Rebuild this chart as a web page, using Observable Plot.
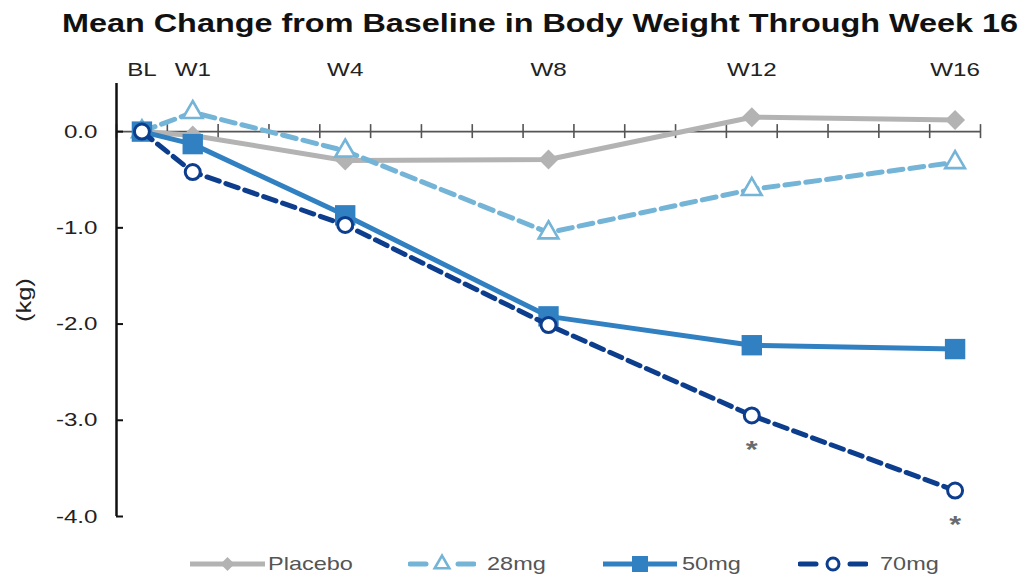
<!DOCTYPE html>
<html>
<head>
<meta charset="utf-8">
<script src="https://cdn.jsdelivr.net/npm/d3@7"></script>
<script src="https://cdn.jsdelivr.net/npm/@observablehq/plot@0.6"></script>
<style>
  body { margin: 0; background: #fff; width: 1027px; height: 579px; position: relative; overflow: hidden;
         font-family: "Liberation Sans", Arial, Helvetica, sans-serif; }
  #title { position: absolute; left: 540px; top: 10.5px; white-space: nowrap; font-weight: bold;
           font-size: 25.5px; line-height: 1; color: #111; transform: translateX(-50%) scaleX(1.27); }
  #chart { position: absolute; left: 0; top: 48px; }
  .swatch { position: absolute; top: 552px; }
  .lab { position: absolute; top: 555px; font-size: 18.5px; line-height: 1; color: #555;
         white-space: nowrap; transform-origin: left center; transform: scaleX(1.27); }
</style>
</head>
<body>
<div id="title">Mean Change from Baseline in Body Weight Through Week 16</div>
<div id="chart"></div>
<div id="legend"></div>
<script>
// Visit schedule (weeks from baseline) and their axis labels
const weeks = [0, 1, 4, 8, 12, 16];
const weekLabels = ["BL", "W1", "W4", "W8", "W12", "W16"];

// Mean change from baseline in body weight (kg) per group
const placebo = [0, -0.04, -0.3, -0.29, 0.15, 0.12];
const dose28 = [0, 0.2, -0.2, -1.05, -0.6, -0.32];
const dose50 = [0, -0.13, -0.87, -1.92, -2.22, -2.26];
const dose70 = [0, -0.42, -0.97, -2.01, -2.95, -3.73];
const groupNames = ["Placebo", "28mg", "50mg", "70mg"];

// Visits where the 70mg group is marked significant
const starWeeks = [12, 16];

const yTicks = [0, -1, -2, -3, -4];
const yTickLabels = ["0.0", "-1.0", "-2.0", "-3.0", "-4.0"];

const seriesValues = [placebo, dose28, dose50, dose70];
const rows = groupNames.flatMap((g, gi) =>
  weeks.map((w, i) => ({group: g, week: w, value: seriesValues[gi][i]})));
const stars = rows.filter(r => r.group === "70mg" && starWeeks.includes(r.week));

const styles = {
  "Placebo": {color: "#b3b3b3", dash: null,   width: 5, symbol: "diamond2",  r: 9,    fill: "#b3b3b3", sw: 0,   lr: 6.3},
  "28mg":    {color: "#74b4d7", dash: "14,7", width: 5, symbol: "triangle2", r: 9.4,  fill: "#fff",    sw: 2.6, lr: 7},
  "50mg":    {color: "#3181c2", dash: null,   width: 5, symbol: "square",    r: 11.5, fill: "#3181c2", sw: 0,   lr: 9},
  "70mg":    {color: "#0d3e8e", dash: "13,7", width: 5, symbol: "circle",    r: 7.5,  fill: "#fff",    sw: 3,   lr: 6}
};

// Week boundaries carry the small cross ticks on the zero line
const boundaryTicks = d3.range(-0.5, 17, 1);

const seriesMarks = groupNames.flatMap(g => {
  const d = rows.filter(r => r.group === g);
  const s = styles[g];
  const lineOpts = {x: "week", y: "value", stroke: s.color, strokeWidth: s.width, strokeLinejoin: "round"};
  if (s.dash) lineOpts.strokeDasharray = s.dash;
  return [
    Plot.line(d, lineOpts),
    Plot.dot(d, {x: "week", y: "value", symbol: s.symbol, r: s.r, fill: s.fill,
                 stroke: s.sw ? s.color : "none", strokeWidth: s.sw})
  ];
});

const chart = Plot.plot({
  width: 1027,
  height: 500,
  marginLeft: 116,
  marginRight: 47,
  marginTop: 35,
  marginBottom: 32,
  x: {domain: [-0.5, 16.5]},
  y: {domain: [-4, 0.5]},
  style: {fontFamily: "'Liberation Sans', Arial, Helvetica, sans-serif", fontSize: "19px", color: "#222",
          background: "transparent", overflow: "visible"},
  marks: [
    Plot.axisX({anchor: "top", ticks: weeks, tickFormat: d => weekLabels[weeks.indexOf(d)],
                tickSize: 0, tickPadding: 8, label: null}),
    Plot.axisY({anchor: "left", ticks: yTicks, tickFormat: d => yTickLabels[yTicks.indexOf(d)],
                tickSize: 0, tickPadding: 19, label: null}),
    Plot.text(["(kg)"], {text: d => d, frameAnchor: "left", rotate: -90, dx: -92, dy: 22, fontSize: 20, fill: "#222"}),
    // zero line with week ticks
    Plot.ruleY([0], {x1: -0.5, x2: 16.5, stroke: "#555", strokeWidth: 1.6}),
    Plot.ruleX(boundaryTicks, {x: d => d, y1: 0, y2: 0, insetTop: -7, insetBottom: -7, stroke: "#555", strokeWidth: 1.6}),
    // vertical axis with inward ticks
    Plot.ruleX([-0.5], {stroke: "#111", strokeWidth: 2.5}),
    Plot.ruleY(yTicks, {y: d => d, x1: -0.5, x2: -0.5, insetLeft: 0, insetRight: -7, stroke: "#111", strokeWidth: 2}),
    ...seriesMarks,
    Plot.text(stars, {x: "week", y: "value", text: () => "*", dy: 35, fill: "#6b6b6b", fontSize: 24, fontWeight: "bold"})
  ]
});

document.getElementById("chart").append(chart);

// widen the lettering to the chart's broad type
chart.querySelectorAll("text").forEach(t => {
  const len = t.getComputedTextLength();
  if (len > 0) {
    t.setAttribute("textLength", (len * 1.27).toFixed(1));
    t.setAttribute("lengthAdjust", "spacingAndGlyphs");
  }
});

// Legend below the chart
const legend = document.getElementById("legend");
const legendPos = [
  {group: "Placebo", swatch: 190, w: 75, label: 268},
  {group: "28mg",    swatch: 408, w: 68, label: 487},
  {group: "50mg",    swatch: 603, w: 74, label: 682},
  {group: "70mg",    swatch: 798, w: 70, label: 880}
];
const symbolPath = (name, r) => d3.symbol(
  {diamond2: d3.symbolDiamond2, triangle2: d3.symbolTriangle2, square: d3.symbolSquare, circle: d3.symbolCircle}[name],
  Math.PI * r * r)();
legendPos.forEach(p => {
  const s = styles[p.group];
  const w = p.w, h = 24, cy = h / 2;
  const svg = d3.create("svg").attr("class", "swatch").attr("width", w).attr("height", h)
    .style("left", p.swatch + "px");
  if (s.dash) {
    svg.append("line").attr("x1", 2).attr("x2", 18).attr("y1", cy).attr("y2", cy)
      .attr("stroke", s.color).attr("stroke-width", s.width).attr("stroke-linecap", "round");
    svg.append("line").attr("x1", w - 18).attr("x2", w - 2).attr("y1", cy).attr("y2", cy)
      .attr("stroke", s.color).attr("stroke-width", s.width).attr("stroke-linecap", "round");
  } else {
    svg.append("line").attr("x1", 0).attr("x2", w).attr("y1", cy).attr("y2", cy)
      .attr("stroke", s.color).attr("stroke-width", s.width);
  }
  svg.append("path").attr("d", symbolPath(s.symbol, s.lr))
    .attr("transform", `translate(${w / 2},${cy})`)
    .attr("fill", s.fill).attr("stroke", s.sw ? s.color : "none").attr("stroke-width", s.sw);
  legend.append(svg.node());
  const lab = document.createElement("div");
  lab.className = "lab";
  lab.style.left = p.label + "px";
  lab.textContent = p.group;
  legend.append(lab);
});
</script>
</body>
</html>
